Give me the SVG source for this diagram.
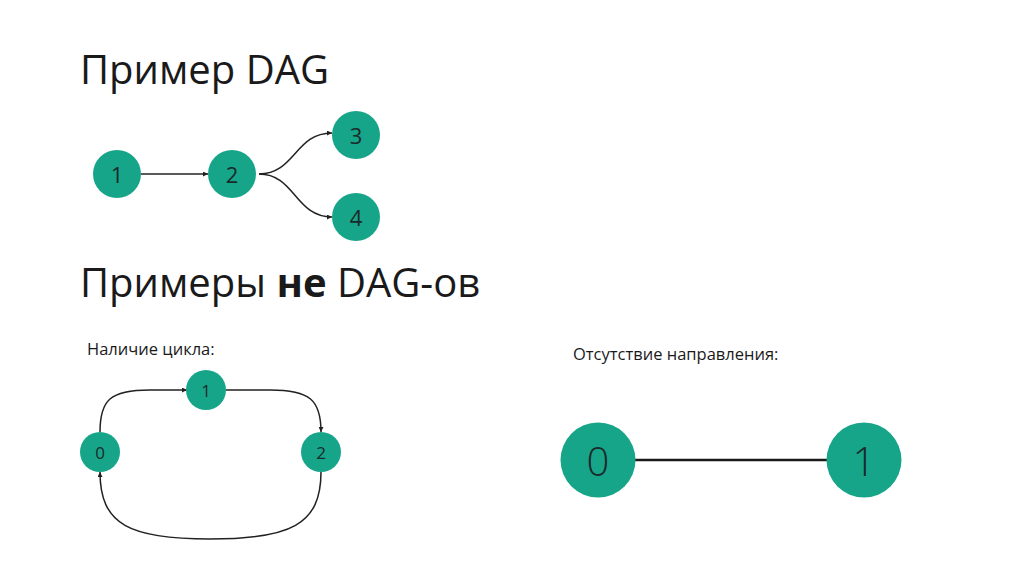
<svg xmlns="http://www.w3.org/2000/svg" width="1024" height="574" viewBox="0 0 1024 574">
<defs>
<style>
.title{font-family:"Open Sans","Liberation Sans",sans-serif;font-size:40px;fill:#1a1a1a}
.label{font-family:"Open Sans","Liberation Sans",sans-serif;font-size:16.5px;fill:#1a1a1a}
.node{fill:#17a589}
.num{font-family:"Open Sans","Liberation Sans",sans-serif;fill:#1a2a2a;text-anchor:middle;dominant-baseline:central}
.edge{fill:none;stroke:#222;stroke-width:1.5}
</style>
<marker id="arr" viewBox="0 0 10 10" refX="10" refY="5" markerWidth="5" markerHeight="5" orient="auto" markerUnits="userSpaceOnUse">
<path d="M0,0 L10,5 L0,10 z" fill="#222"/>
</marker>
</defs>
<rect width="1024" height="574" fill="#fff"/>
<text class="title" x="80" y="84">Пример DAG</text>
<text class="title" x="80" y="297">Примеры <tspan font-weight="bold">не</tspan> DAG-ов</text>
<text class="label" x="87" y="355">Наличие цикла:</text>
<text class="label" x="573" y="360">Отсутствие направления:</text>
<g id="connectors">
<path class="edge" d="M141,174 H208" marker-end="url(#arr)"/>
<path class="edge" d="M259,174 C295,174 295,133 332,133" marker-end="url(#arr)"/>
<path class="edge" d="M259,174 C295,174 295,217 332,217" marker-end="url(#arr)"/>
<path class="edge" d="M100,432 C100,400 110,390 150,390 H187" marker-end="url(#arr)"/>
<path class="edge" d="M226,390 H270 C310,390 321,400 321,432" marker-end="url(#arr)"/>
<path class="edge" d="M321,472 C321,525 290,539 210,539 C130,539 100,525 100,472" marker-end="url(#arr)"/>
<path d="M635,460 H827" stroke="#1a1a1a" stroke-width="2.5"/>
</g>
<g id="n1"><circle class="node" cx="117" cy="174" r="24"/><text class="num" x="117" y="174" font-size="22">1</text></g>
<g id="n2"><circle class="node" cx="232" cy="174" r="24"/><text class="num" x="232" y="174" font-size="22">2</text></g>
<g id="n3"><circle class="node" cx="356" cy="135" r="24"/><text class="num" x="356" y="135" font-size="22">3</text></g>
<g id="n4"><circle class="node" cx="356" cy="217" r="24"/><text class="num" x="356" y="217" font-size="22">4</text></g>
<g id="c0"><circle class="node" cx="100" cy="452" r="20"/><text class="num" x="100" y="452" font-size="17">0</text></g>
<g id="c1"><circle class="node" cx="206" cy="390" r="20"/><text class="num" x="206" y="390" font-size="17">1</text></g>
<g id="c2"><circle class="node" cx="321" cy="452" r="20"/><text class="num" x="321" y="452" font-size="17">2</text></g>
<g id="u0"><circle class="node" cx="598" cy="460" r="37.5"/><text class="num" x="598" y="460" font-size="40" font-weight="300">0</text></g>
<g id="u1"><circle class="node" cx="864" cy="460" r="37.5"/><text class="num" x="864" y="460" font-size="40" font-weight="300">1</text></g>
</svg>
